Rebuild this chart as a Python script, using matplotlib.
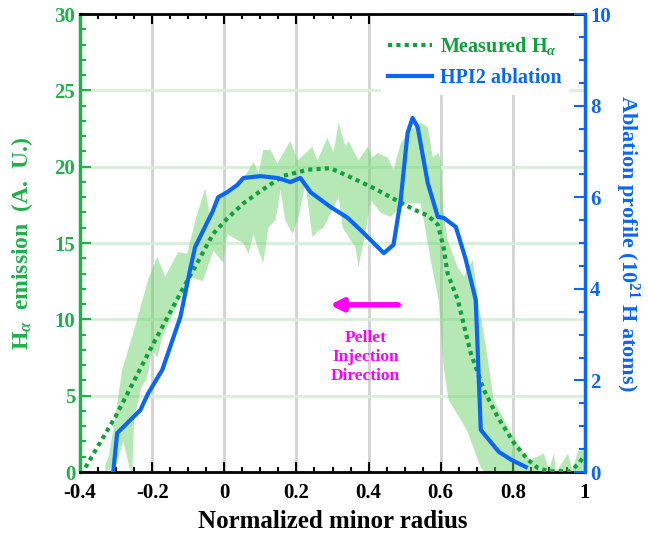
import matplotlib
matplotlib.use('Agg')
import matplotlib.pyplot as plt
from matplotlib.ticker import MultipleLocator, FuncFormatter
from matplotlib.patches import Rectangle
import numpy as np

plt.rcParams['font.family'] = 'Liberation Serif'
plt.rcParams['font.weight'] = 'bold'
plt.rcParams['mathtext.fontset'] = 'custom'
plt.rcParams['mathtext.rm'] = 'Liberation Serif:bold'
plt.rcParams['mathtext.it'] = 'Liberation Serif:italic:bold'
plt.rcParams['mathtext.bf'] = 'Liberation Serif:bold'

# ---------------------------------------------------------------------------
# data
# ---------------------------------------------------------------------------
# measured H-alpha (smoothed, left axis)
ha_x = [-0.385, -0.30, -0.206, -0.122, -0.075, -0.031, 0.008, 0.053, 0.10, 0.164,
        0.231, 0.294, 0.342, 0.414, 0.469, 0.525, 0.564, 0.592, 0.608, 0.619,
        0.647, 0.683, 0.719, 0.758, 0.803, 0.842, 0.869, 0.90, 0.96, 0.98, 1.0]
ha_y = [0.3, 3.7, 8.0, 11.7, 13.7, 15.6, 16.6, 17.6, 18.4, 19.4,
        19.8, 19.9, 19.4, 18.6, 17.9, 17.2, 16.8, 16.2, 14.7, 13.0,
        11.3, 7.8, 5.4, 3.6, 1.9, 0.8, 0.26, 0.05, 0.05, 0.5, 1.1]

# spread of measured H-alpha (upper / lower edge of shaded band)
band_up_x = [-0.33, -0.32, -0.30, -0.283, -0.26, -0.239, -0.211, -0.186, -0.164, -0.128,
             -0.103, -0.08, -0.053, -0.039, -0.019, 0.008, 0.036, 0.06, 0.081, 0.095,
             0.108, 0.128, 0.147, 0.183, 0.203, 0.244, 0.258, 0.286, 0.303, 0.317,
             0.336, 0.344, 0.372, 0.397, 0.411, 0.425, 0.453, 0.469, 0.489, 0.517,
             0.544, 0.564, 0.578, 0.594, 0.600, 0.606, 0.619, 0.647, 0.664, 0.689,
             0.703, 0.719, 0.731, 0.747, 0.794, 0.831, 0.85, 0.886, 0.90, 0.914,
             0.92, 0.953, 0.965, 0.981, 1.0]
band_up_y = [0.5, 1.0, 4.0, 6.7, 8.5, 10.2, 12.6, 14.1, 12.8, 14.4,
             14.3, 16.5, 18.6, 16.7, 17.8, 18.3, 18.7, 19.5, 20.3, 19.6,
             21.1, 21.1, 20.2, 21.7, 20.4, 21.3, 20.4, 21.9, 20.9, 22.9,
             21.3, 21.7, 20.4, 21.3, 20.6, 20.9, 20.6, 19.8, 21.5, 22.4,
             22.9, 22.6, 20.6, 20.9, 20.4, 17.4, 15.2, 13.4, 12.8, 13.9,
             11.3, 9.1, 7.3, 4.7, 2.6, 1.2, 0.8, 1.2, 0.2, 1.2,
             0.0, 1.2, 0.1, 1.4, 1.4]
band_lo_x = [-0.33, -0.30, -0.28, -0.262, -0.255, -0.25, -0.23, -0.214, -0.20, -0.186,
             -0.172, -0.15, -0.12, -0.094, -0.06, -0.03, -0.003, 0.008, 0.036, 0.053,
             0.067, 0.081, 0.092, 0.108, 0.122, 0.142, 0.156, 0.169, 0.189, 0.206,
             0.225, 0.244, 0.261, 0.275, 0.317, 0.328, 0.364, 0.372, 0.392, 0.406,
             0.433, 0.461, 0.481, 0.508, 0.544, 0.553, 0.572, 0.594, 0.608, 0.622,
             0.656, 0.675, 0.711, 0.72, 1.0]
band_lo_y = [0.0, 0.5, 2.0, 0.2, 0.0, 3.5, 5.5, 6.2, 8.0, 7.5,
             8.8, 10.0, 11.5, 12.8, 12.5, 14.5, 13.7, 15.6, 15.2, 15.0,
             14.3, 15.6, 14.7, 13.7, 16.0, 16.5, 18.5, 16.5, 15.6, 16.7,
             18.9, 15.4, 15.8, 16.0, 18.0, 16.0, 14.7, 13.4, 15.8, 17.8,
             17.0, 16.7, 17.2, 17.6, 17.6, 16.5, 13.9, 11.3, 6.9, 4.7,
             3.4, 2.6, 0.3, 0.0, 0.0]

# HPI2 ablation profile (right axis, 1e21 H atoms)
abl_x = [-0.308, -0.297, -0.233, -0.211, -0.172, -0.122, -0.094, -0.081, -0.058, -0.033,
         -0.017, 0.008, 0.036, 0.053, 0.10, 0.147, 0.164, 0.183, 0.211, 0.239,
         0.294, 0.342, 0.386, 0.442, 0.469, 0.489, 0.508, 0.522, 0.536, 0.564,
         0.592, 0.608, 0.642, 0.669, 0.697, 0.711, 0.761, 0.797, 0.836]
abl_y = [0.0, 0.85, 1.35, 1.72, 2.23, 3.38, 4.45, 4.91, 5.28, 5.68,
         6.0, 6.11, 6.27, 6.42, 6.46, 6.42, 6.38, 6.33, 6.42, 6.11,
         5.79, 5.55, 5.22, 4.78, 4.96, 5.94, 7.4, 7.73, 7.53, 6.31,
         5.57, 5.55, 5.35, 4.65, 3.76, 0.92, 0.44, 0.26, 0.11]

# colours
c_green = '#1fb14a'
c_green_dark = '#10a03c'
c_band = '#6fd36f'
c_blue = '#0a66f5'
c_magenta = '#ff00ff'

# ---------------------------------------------------------------------------
fig = plt.figure(figsize=(6.48, 5.39), dpi=100)
ax = fig.add_axes([0.1235, 0.1243, 0.7793, 0.8497])
ax2 = ax.twinx()

ax.fill(np.concatenate([band_up_x, band_lo_x[::-1]]),
        np.concatenate([band_up_y, band_lo_y[::-1]]),
        facecolor=c_band, edgecolor='none', alpha=0.5, zorder=2)
l1, = ax.plot(ha_x, ha_y, color=c_green_dark, lw=3, linestyle=(0, (1, 1)),
              zorder=3, label=r'Measured H$_{\alpha}$')
l2, = ax2.plot(abl_x, abl_y, color=c_blue, lw=3, zorder=3,
               label='HPI2 ablation')

ax.set_xlim(-0.4, 1.0)
ax.set_ylim(0, 30)
ax2.set_ylim(0, 10)

# grid
ax.xaxis.grid(True, color='#d2d2d2', lw=2)
ax.yaxis.grid(True, color='#d6f0d6', lw=2)
ax.set_axisbelow(True)

# white patch behind the legend hides the grid there
ax.add_patch(Rectangle((0.596, 0.823), 0.374, 0.177, transform=ax.transAxes,
                       facecolor='white', edgecolor='none', zorder=1))

# ticks
ax.xaxis.set_major_locator(MultipleLocator(0.2))
ax.xaxis.set_minor_locator(MultipleLocator(0.05))
ax.yaxis.set_major_locator(MultipleLocator(5))
ax.yaxis.set_minor_locator(MultipleLocator(1))
ax2.yaxis.set_major_locator(MultipleLocator(2))
ax2.yaxis.set_minor_locator(MultipleLocator(0.5))

ax.tick_params(axis='x', which='both', direction='in', top=True, bottom=True,
               width=1.5, colors='black', labelsize=15, pad=8)
ax.tick_params(axis='x', which='major', length=7)
ax.tick_params(axis='x', which='minor', length=3.5)
ax.tick_params(axis='y', which='both', direction='in', width=1.5,
               colors=c_green, labelsize=15, right=False)
ax.tick_params(axis='y', which='major', length=8)
ax.tick_params(axis='y', which='minor', length=4)
ax2.tick_params(axis='y', which='both', direction='in', width=1.5,
                colors=c_blue, labelsize=15)
ax2.tick_params(axis='y', which='major', length=8)
ax2.tick_params(axis='y', which='minor', length=4)

ax.xaxis.set_major_formatter(FuncFormatter(
    lambda v, p: '0' if abs(v) < 1e-9 else ('1' if abs(v - 1) < 1e-9 else f'{v:.1f}')))

for s in ['top', 'bottom']:
    ax.spines[s].set_linewidth(2)
    ax.spines[s].set_color('black')
ax.spines['left'].set_color(c_green)
ax.spines['left'].set_linewidth(2.5)
ax.spines['right'].set_visible(False)
ax2.spines['right'].set_color(c_blue)
ax2.spines['right'].set_linewidth(2.5)
for s in ['left', 'top', 'bottom']:
    ax2.spines[s].set_visible(False)

# labels
ax.set_xlabel('Normalized minor radius', fontsize=18, fontweight='bold', labelpad=5)
ax.set_ylabel(r'H$_{\alpha}$  emission  (A.  U.)', fontsize=17, fontweight='bold',
              color=c_green, labelpad=14)
ax2.set_ylabel(r'Ablation profile (10$^{21}$ H atoms)', fontsize=16,
               fontweight='bold', color=c_blue, rotation=-90, labelpad=22)

# legend
leg = ax2.legend(handles=[l1, l2], loc='center left',
                 bbox_to_anchor=(0.610, 0.896), fontsize=14.5,
                 frameon=False, handlelength=2.2, handletextpad=0.4,
                 borderaxespad=0, borderpad=0, labelspacing=0.55)
for txt, col in zip(leg.get_texts(), [c_green_dark, c_blue]):
    txt.set_color(col)

# pellet injection annotation
ax.annotate('', xy=(0.285, 10.95), xytext=(0.49, 10.95),
            arrowprops=dict(arrowstyle='-|>', color=c_magenta, lw=4,
                            mutation_scale=18), zorder=5)
ax.text(0.392, 7.55, 'Pellet\nInjection\nDirection', color=c_magenta,
        fontsize=12.5, fontweight='bold', ha='center', va='center',
        linespacing=1.25, zorder=5)

fig.savefig('out.png', dpi=100)
